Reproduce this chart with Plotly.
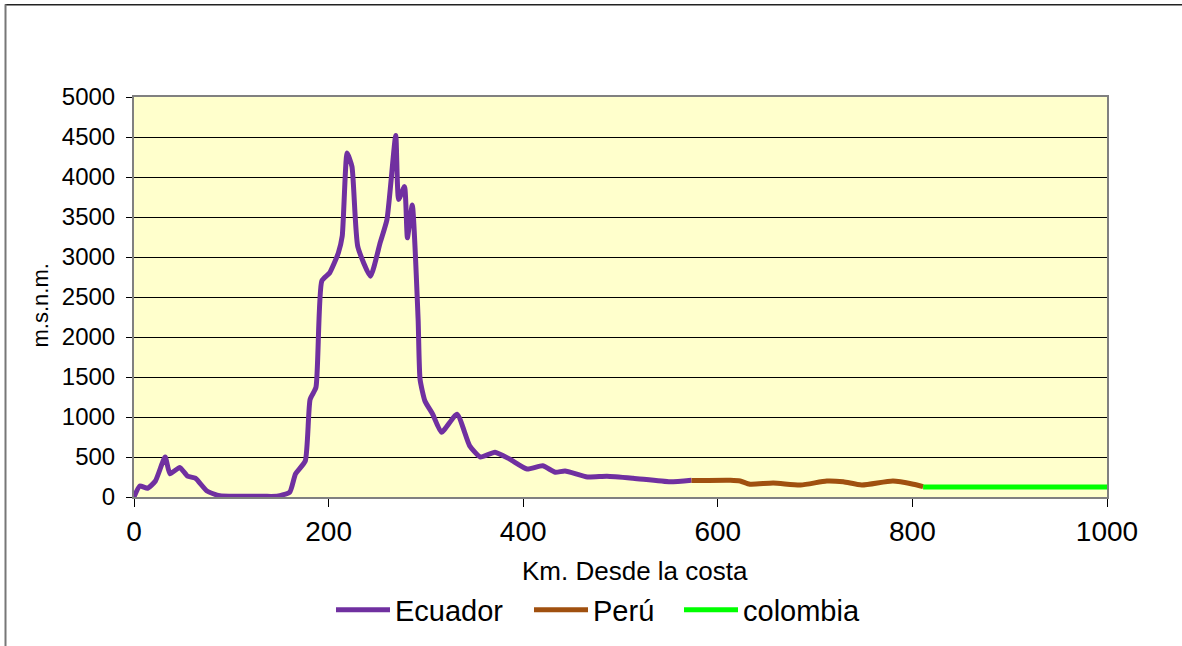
import plotly.graph_objects as go

# Data
ecuador_km = [0, 6, 14, 22, 32, 37, 47, 55, 63, 75, 88, 105, 122, 135, 147, 160, 166, 176,
              181, 187, 193, 201, 210, 214, 219, 224, 230, 243, 253, 260, 269, 272, 278, 281,
              286, 292, 294, 299, 307, 316, 332, 345, 356, 371, 386, 404, 420, 433, 443, 466,
              486, 513, 551, 573]
ecuador_m = [0, 137, 110, 200, 500, 290, 370, 260, 235, 75, 15, 8, 10, 8, 10, 60, 290, 450,
             1220, 1370, 2700, 2800, 3050, 3260, 4300, 4130, 3130, 2760, 3180, 3470, 4520, 3720, 3880, 3240,
             3650, 2220, 1470, 1200, 1035, 810, 1035, 640, 500, 560, 475, 350, 390, 310, 325, 250,
             260, 235, 190, 210]

peru_km = [573, 613, 623, 633, 657, 685, 712, 729, 748, 780, 801, 811]
peru_m = [205, 210, 200, 160, 175, 150, 200, 190, 150, 200, 160, 130]

colombia_km = [811, 1000]
colombia_m = [125, 125]

x_ticks = [0, 200, 400, 600, 800, 1000]
y_ticks = [0, 500, 1000, 1500, 2000, 2500, 3000, 3500, 4000, 4500, 5000]

x_title = "Km. Desde la costa"
y_title = "m.s.n.m."

W, H = 1182, 646
L, R, T, B = 134, 75, 97, 148
pw, ph = W - L - R, H - T - B

def px_to_paper_x(px):
    return (px - L) / pw

def px_to_paper_y(py):
    return (H - B - py) / ph

fig = go.Figure()
fig.add_trace(go.Scatter(x=ecuador_km, y=ecuador_m, mode="lines", name="Ecuador", legend="legend",
                         line=dict(color="#7030A0", width=5, shape="spline", smoothing=0.5)))
fig.add_trace(go.Scatter(x=peru_km, y=peru_m, mode="lines", name="Perú", legend="legend2",
                         line=dict(color="#A0500F", width=5, shape="spline", smoothing=0.6)))
fig.add_trace(go.Scatter(x=colombia_km, y=colombia_m, mode="lines", name="colombia", legend="legend3",
                         line=dict(color="#00FF00", width=5)))

font_family = "Liberation Sans, Arial, sans-serif"

def legend_at(px_left):
    return dict(orientation="h", x=px_to_paper_x(px_left), xanchor="left",
                y=px_to_paper_y(610), yanchor="middle",
                font=dict(size=29, family=font_family), itemwidth=54,
                bgcolor="rgba(0,0,0,0)")

fig.update_layout(
    width=W, height=H,
    margin=dict(l=L, r=R, t=T, b=B),
    paper_bgcolor="white",
    plot_bgcolor="#FFFFCC",
    font=dict(family=font_family, color="black"),
    showlegend=True,
    legend=legend_at(331),
    legend2=legend_at(529),
    legend3=legend_at(679),
    xaxis=dict(range=[0, 1000], tickvals=x_ticks, ticks="outside", ticklen=8, tickcolor="black",
               tickfont=dict(size=28), showgrid=False, zeroline=False,
               showline=True, linecolor="#808080", linewidth=2, mirror=True),
    yaxis=dict(range=[0, 5000], tickvals=y_ticks, ticks="outside", ticklen=6, tickcolor="black",
               tickfont=dict(size=24), showgrid=True, gridcolor="#000000", gridwidth=1,
               ticklabelstandoff=6,
               zeroline=False, showline=True, linecolor="#808080", linewidth=2, mirror=True),
    annotations=[
        dict(text=x_title, xref="paper", yref="paper",
             x=px_to_paper_x(635), y=px_to_paper_y(572), xanchor="center", yanchor="middle",
             showarrow=False, font=dict(size=26, family=font_family, color="black")),
        dict(text=y_title, xref="paper", yref="paper", textangle=-90,
             x=px_to_paper_x(40), y=px_to_paper_y(306), xanchor="center", yanchor="middle",
             showarrow=False, font=dict(size=22, family=font_family, color="black")),
    ],
    shapes=[
        dict(type="line", xref="paper", yref="paper",
             x0=px_to_paper_x(5), x1=px_to_paper_x(1200),
             y0=px_to_paper_y(4.5), y1=px_to_paper_y(4.5),
             line=dict(color="#222222", width=1.5), layer="below"),
        dict(type="line", xref="paper", yref="paper",
             x0=px_to_paper_x(5.5), x1=px_to_paper_x(5.5),
             y0=px_to_paper_y(4), y1=px_to_paper_y(700),
             line=dict(color="#777777", width=2), layer="below"),
    ],
)

fig.write_html("out.html", config={"displayModeBar": False},
               post_script="document.body.style.margin='0';document.body.style.overflow='hidden';")
